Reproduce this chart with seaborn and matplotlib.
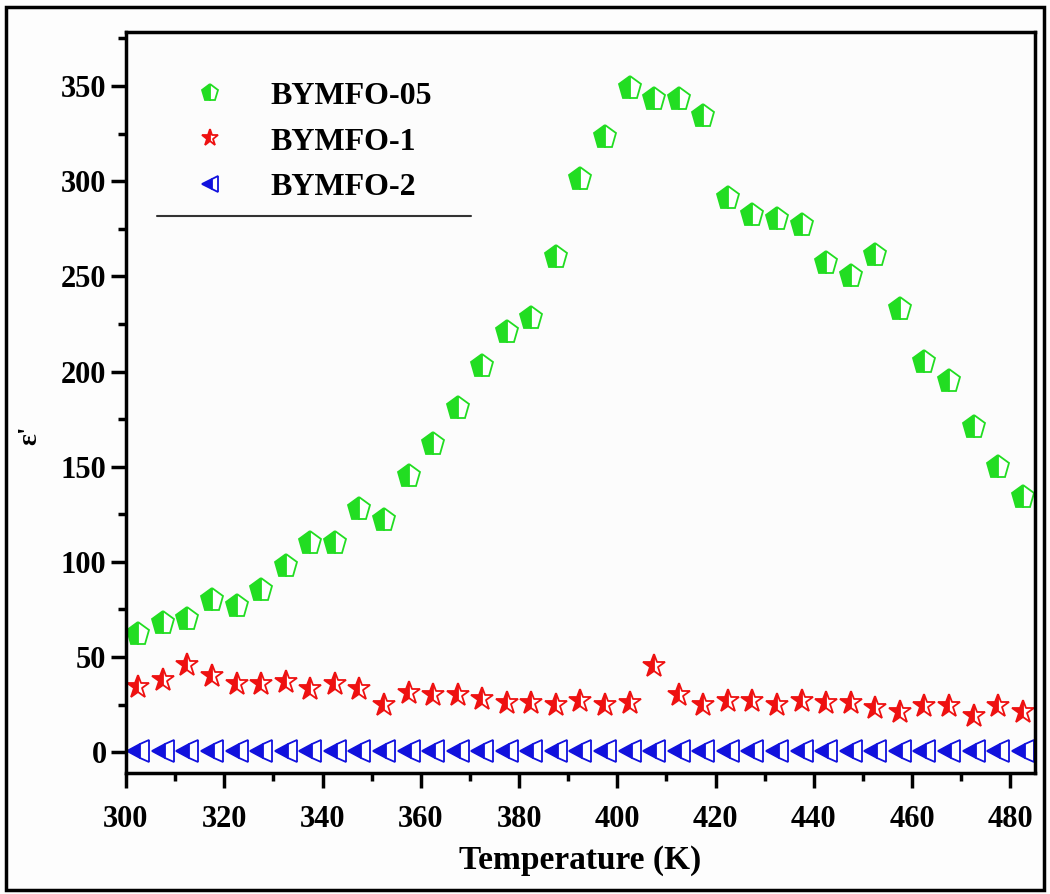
import numpy as np
import pandas as pd
import matplotlib
matplotlib.use("Agg")
import matplotlib.pyplot as plt
from matplotlib.lines import Line2D
from matplotlib.patches import Rectangle
from matplotlib.ticker import MultipleLocator
import seaborn as sns

temperature = [302.5, 307.5, 312.5, 317.5, 322.5, 327.5, 332.5, 337.5, 342.5, 347.5,
               352.5, 357.5, 362.5, 367.5, 372.5, 377.5, 382.5, 387.5, 392.5, 397.5,
               402.5, 407.5, 412.5, 417.5, 422.5, 427.5, 432.5, 437.5, 442.5, 447.5,
               452.5, 457.5, 462.5, 467.5, 472.5, 477.5, 482.5]
bymfo_05 = [62, 68, 70, 80, 77, 85, 98, 110, 110, 128, 122, 145, 162, 181, 203,
            221, 228, 260, 301, 323, 349, 343, 343, 334, 291, 282, 280, 277, 257, 250,
            261, 233, 205, 195, 171, 150, 134]
bymfo_1 = [34, 38, 46, 40, 36, 36, 37, 33, 36, 33, 25, 31, 30, 30, 28,
           26, 26, 25, 27, 25, 26, 45, 30, 25, 27, 27, 25, 27, 26, 26,
           23, 21, 24, 24, 19, 24, 21]
bymfo_2 = [0.5] * len(temperature)
series_names = ["BYMFO-05", "BYMFO-1", "BYMFO-2"]

sns.set_style("white")
plt.rcParams['font.family'] = ['Liberation Serif', 'DejaVu Serif']
plt.rcParams['font.weight'] = 'bold'
for k in ['text.color', 'axes.labelcolor', 'xtick.color', 'ytick.color',
          'xtick.labelcolor', 'ytick.labelcolor']:
    plt.rcParams[k] = 'black'

fig = plt.figure(figsize=(10.5, 8.94), dpi=100, facecolor="#fdfdfd")
ax = fig.add_axes([0.12, 0.1353, 0.8657, 0.8289])
ax.set_facecolor("#fcfcfc")

styles = [
    dict(marker="p", color="#22dd22", ms=17),
    dict(marker="*", color="#ee1111", ms=17),
    dict(marker="<", color="#1111dd", ms=16),
]
for name, vals, st in zip(series_names, [bymfo_05, bymfo_1, bymfo_2], styles):
    df = pd.DataFrame({"T": temperature, "eps": vals})
    sns.lineplot(data=df, x="T", y="eps", ax=ax, linestyle="", marker=st["marker"],
                 markersize=st["ms"], color=st["color"], markeredgecolor=st["color"],
                 markerfacecoloralt="white", fillstyle="left", markeredgewidth=1.3,
                 label=name)

ax.set_xlim(300, 485)
ax.set_ylim(-11, 378.4)
ax.xaxis.set_major_locator(MultipleLocator(20))
ax.xaxis.set_minor_locator(MultipleLocator(10))
ax.yaxis.set_major_locator(MultipleLocator(50))
ax.yaxis.set_minor_locator(MultipleLocator(25))
ax.tick_params(which="major", direction="out", length=11, width=2.5, labelsize=22,
               bottom=True, left=True, top=False, right=False, pad=3)
ax.tick_params(axis="x", which="major", pad=12)
ax.tick_params(which="minor", direction="out", length=6, width=2.5,
               bottom=True, left=True, top=False, right=False)
for lab in ax.get_xticklabels() + ax.get_yticklabels():
    lab.set_fontweight("bold")
for sp in ax.spines.values():
    sp.set_linewidth(2.5)
    sp.set_color("black")

ax.set_xlabel("Temperature (K)", fontsize=24, fontweight="bold", labelpad=8)
ax.set_ylabel("ε'", fontsize=20, fontweight="bold")
ax.yaxis.set_label_coords(-0.092, 0.456)

leg = ax.legend(loc="upper left", bbox_to_anchor=(0.043, 0.95), frameon=False,
                prop=dict(family=['Liberation Serif'], weight="bold", size=23),
                handletextpad=0.9, labelspacing=0.5, markerscale=0.75, borderaxespad=0)
for t in leg.get_texts():
    t.set_color("black")
ax.add_line(Line2D([0.034, 0.38], [0.752, 0.752], transform=ax.transAxes,
                   color="#333333", lw=1.5))

fig.patches.append(Rectangle((0.006, 0.004), 0.988, 0.988, transform=fig.transFigure,
                             fill=False, edgecolor="black", lw=2.5))

fig.savefig("out.png", dpi=100, facecolor=fig.get_facecolor())
